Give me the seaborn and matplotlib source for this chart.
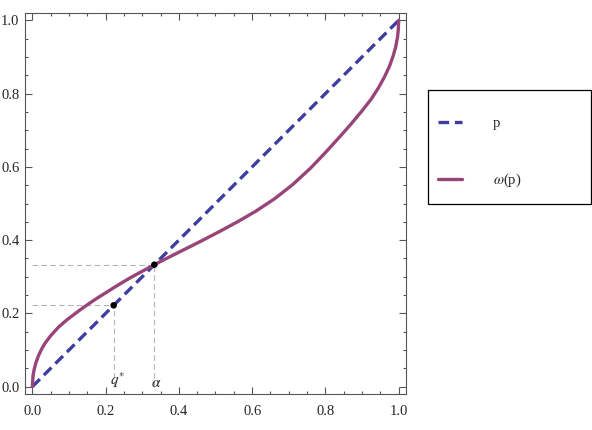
import pandas as pd
import seaborn as sns
import matplotlib.pyplot as plt
from matplotlib.patches import Rectangle
from matplotlib.ticker import MultipleLocator, FormatStrFormatter

# values
p_vals = [0.0, 0.002, 0.005, 0.01, 0.017, 0.025, 0.035, 0.05, 0.072, 0.095,
          0.115, 0.131, 0.155, 0.176, 0.20, 0.222, 0.245, 0.267, 0.30, 0.333,
          0.38, 0.42, 0.46, 0.51, 0.56, 0.61, 0.66, 0.71, 0.76, 0.80,
          0.84, 0.87, 0.90, 0.925, 0.945, 0.962, 0.975, 0.985, 0.992, 0.997,
          0.999, 1.0]
omega_vals = [0.0, 0.030, 0.047, 0.066, 0.085, 0.102, 0.119, 0.139, 0.163, 0.183,
              0.198, 0.210, 0.227, 0.241, 0.256, 0.270, 0.284, 0.297, 0.315, 0.333,
              0.357, 0.377, 0.397, 0.423, 0.450, 0.479, 0.512, 0.551, 0.597, 0.639,
              0.683, 0.717, 0.753, 0.785, 0.816, 0.847, 0.875, 0.903, 0.928, 0.955,
              0.975, 1.0]
diag_vals = [0.0, 1.0]
q_star = 0.222
alpha = 0.333
legend_labels = ['p', r'$\omega$(p)']

BLUE = '#3d3d9e'
PURPLE = '#974579'
GUIDE = '#b4b4b4'
FRAME = '#555555'

sns.set_style('ticks')
plt.rcParams['font.family'] = ['Liberation Serif', 'DejaVu Serif']
plt.rcParams['mathtext.fontset'] = 'stix'

curve_df = pd.DataFrame({'p': p_vals, 'w': omega_vals})
diag_df = pd.DataFrame({'p': diag_vals, 'w': diag_vals})
dots_df = pd.DataFrame({'p': [q_star, alpha], 'w': [q_star, alpha]})

fig = plt.figure(figsize=(5.92, 4.30), dpi=100)
ax = fig.add_axes([25 / 592, 1 - 394 / 430, 381 / 592, 381 / 430])

# guide lines
ax.hlines([q_star, alpha], 0, [q_star, alpha], colors=GUIDE, lw=0.8,
          linestyles=(0, (5, 3)), zorder=1)
ax.vlines([q_star, alpha], 0, [q_star, alpha], colors=GUIDE, lw=0.8,
          linestyles=(0, (5, 3)), zorder=1)

sns.lineplot(data=diag_df, x='p', y='w', ax=ax, color=BLUE, lw=2.4,
             label=legend_labels[0], zorder=3)
ax.lines[-1].set_dashes([3.2, 1.7])
sns.lineplot(data=curve_df, x='p', y='w', ax=ax, color=PURPLE, lw=2.4,
             label=legend_labels[1], zorder=4)
sns.scatterplot(data=dots_df, x='p', y='w', ax=ax, color='black', s=22,
                edgecolor='none', zorder=5, legend=False)

ax.text(q_star + 0.01, -0.008, r'$q^{*}$', fontsize=11, ha='center', va='bottom')
ax.text(alpha + 0.005, -0.008, r'$\alpha$', fontsize=11, ha='center', va='bottom')

ax.set_xlim(-0.02, 1.02)
ax.set_ylim(-0.02, 1.02)
ax.set_xlabel('')
ax.set_ylabel('')
for axis in (ax.xaxis, ax.yaxis):
    axis.set_major_locator(MultipleLocator(0.2))
    axis.set_minor_locator(MultipleLocator(0.05))
    axis.set_major_formatter(FormatStrFormatter('%.1f'))
ax.tick_params(which='both', direction='in', top=True, right=True,
               color=FRAME, width=0.8, labelsize=10.5)
ax.tick_params(which='major', length=5)
ax.tick_params(which='minor', length=2.5)
ax.tick_params(axis='x', pad=8)
ax.tick_params(axis='y', pad=4)
for s in ax.spines.values():
    s.set_visible(True)
    s.set_color(FRAME)
    s.set_linewidth(0.8)

handles, labels = ax.get_legend_handles_labels()
ax.get_legend().remove()
fig.legend(handles, labels, loc='upper left',
           bbox_to_anchor=(438 / 592, 1 - 117 / 430),
           fontsize=10.5, handlelength=1.65, handletextpad=2.1,
           labelspacing=2.83, borderpad=0.0, borderaxespad=0.0,
           frameon=False)
fig.patches.append(Rectangle((428 / 592, 1 - 204 / 430), 163 / 592, 114 / 430,
                             transform=fig.transFigure, fill=False,
                             edgecolor='black', linewidth=0.9))

fig.savefig('out.png', dpi=100)
